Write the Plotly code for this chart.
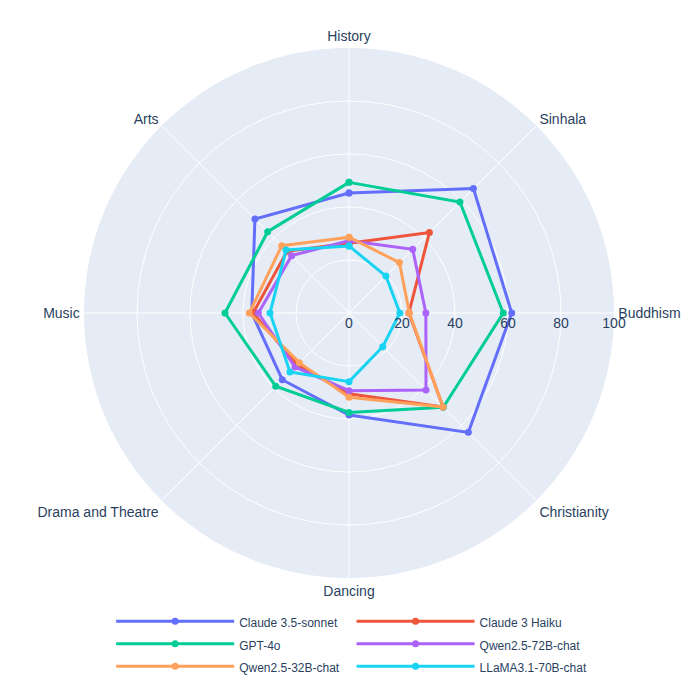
import plotly.graph_objects as go

categories = ["History", "Sinhala", "Buddhism", "Christianity", "Dancing",
              "Drama and Theatre", "Music", "Arts"]

claude35 = [45.3, 66.4, 61.4, 63.7, 38.5, 35.6, 36.7, 50.2]
claude3_haiku = [26.3, 42.9, 22.6, 50.2, 30.5, 27.6, 36.2, 33.0]
gpt4o = [49.3, 59.2, 58.2, 50.3, 37.5, 39.1, 46.8, 43.4]
qwen72b = [27.3, 34.0, 29.0, 41.1, 29.3, 28.8, 34.2, 30.6]
qwen32b = [28.6, 26.9, 22.8, 50.2, 31.8, 26.5, 37.6, 35.9]
llama70b = [25.3, 19.7, 19.2, 18.0, 25.9, 31.5, 29.8, 33.6]

series = [
    ("Claude 3.5-sonnet", claude35, "#636efa"),
    ("Claude 3 Haiku", claude3_haiku, "#EF553B"),
    ("GPT-4o", gpt4o, "#00cc96"),
    ("Qwen2.5-72B-chat", qwen72b, "#ab63fa"),
    ("Qwen2.5-32B-chat", qwen32b, "#FFA15A"),
    ("LLaMA3.1-70B-chat", llama70b, "#19d3f3"),
]

fig = go.Figure()
for name, vals, color in series:
    fig.add_trace(go.Scatterpolar(
        r=vals + vals[:1],
        theta=categories + categories[:1],
        mode="lines+markers",
        name='<span style="font-size:12px">' + name + '</span>',
        line=dict(color=color, width=3),
        marker=dict(color=color, size=7),
    ))

fig.update_layout(
    width=698, height=698,
    font=dict(family="Liberation Sans, Arial, sans-serif", size=14, color="#2a3f5f"),
    paper_bgcolor="white",
    margin=dict(l=76, r=92, t=40, b=128),
    polar=dict(
        bgcolor="#E5ECF6",
        angularaxis=dict(direction="clockwise", rotation=90, gridcolor="white",
                         linecolor="white", showline=False, ticks="outside",
                         ticklen=1, tickcolor="rgba(0,0,0,0)"),
        radialaxis=dict(range=[0, 100], angle=0, tickvals=[0, 20, 40, 60, 80, 100],
                        gridcolor="white", linecolor="white", showline=False, ticks=""),
    ),
    legend=dict(orientation="h", x=0.505, xanchor="center", y=-0.051, yanchor="top",
                itemwidth=118, font=dict(size=15)),
)

fig.write_html("out.html")
